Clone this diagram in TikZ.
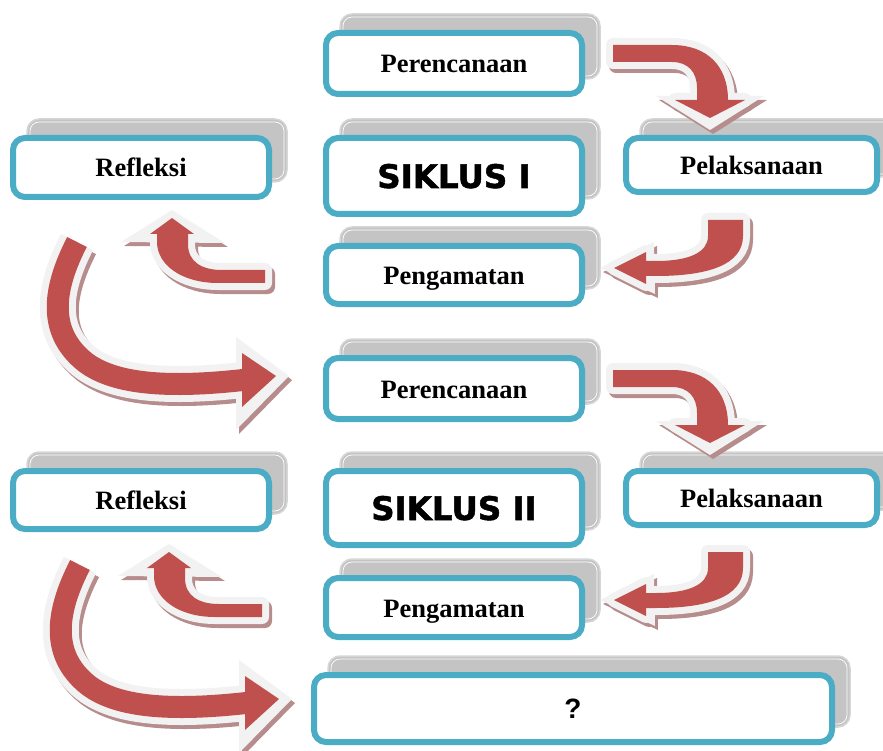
\documentclass[tikz,border=0pt]{standalone}
\usepackage{fontspec}
\setmainfont{Liberation Serif}
\newfontfamily\heavyfont{DejaVu Sans}[UprightFeatures={FakeBold=1.6}, BoldFeatures={FakeBold=1.6}]
\newfontfamily\arialfont{Liberation Sans}
\definecolor{bluec}{HTML}{4BACC6}
\definecolor{redc}{HTML}{C0504D}
\definecolor{whitec}{HTML}{F2F2F2}
\definecolor{shadowc}{RGB}{183,140,140}
\definecolor{grayc}{HTML}{C4C4C4}
\definecolor{grayedge}{HTML}{D6D6D6}

% arrow outlines (pixel coordinates, y downwards)
\newcommand\arrApath{(613,45) -- (672,45) .. controls (706,45) and (728,65) .. (728,100) -- (745,100) -- (710,118) -- (675,100) -- (697,100) -- (697,88) .. controls (697,72) and (688,62) .. (672,62) -- (613,62) -- cycle}
\newcommand\arrAhead{(656,96) -- (764,96) -- (710,130) -- cycle}
\newcommand\arrBpath{(708,220) -- (743,220) -- (743,236) .. controls (743,266) and (705,276) .. (656,276) -- (646,276) -- (646,284) -- (614,268) -- (646,252) -- (646,261) -- (656,261) .. controls (690,261) and (708,252) .. (708,236) -- cycle}
\newcommand\arrBhead{(654,242) -- (655,294) -- (600,268) -- cycle}
\newcommand\arrCpath{(265,270) -- (265,283) -- (218,283) .. controls (182,283) and (157,265) .. (157,242) -- (157,234) -- (150,234) -- (172,218) -- (194,234) -- (188,234) -- (188,244) .. controls (188,262) and (202,270) .. (222,270) -- cycle}
\newcommand\arrChead{(121,242) -- (225,243) -- (172,210) -- cycle}
\newcommand\arrDline{(77,242) .. controls (55,285) and (45,330) .. (85,362) .. controls (115,385) and (170,388) .. (243,380)}
\newcommand\arrDred{(242,353) -- (242,407) -- (276,376) -- cycle}
\newcommand\arrDwhite{(236,337) -- (236,430) -- (289,376) -- cycle}

\newcommand\fancyarrow[3]{%
  \begin{scope}[shift={#1}]
    \begin{scope}[shift={(3,4)}]
      \fill[shadowc] #3;
      \filldraw[shadowc, line width=14pt, line join=round] #2;
    \end{scope}
    \fill[whitec] #3;
    \filldraw[whitec, line width=14pt, line join=round] #2;
    \fill[redc] #2;
  \end{scope}}

\newcommand\bigarrow[4]{%
  \begin{scope}[shift={#1}]
    \begin{scope}[shift={(3,4)}]
      \draw[shadowc, line width=36pt] #2;
      \fill[shadowc] #4;
    \end{scope}
    \draw[whitec, line width=36pt] #2;
    \fill[whitec] #4;
    \draw[redc, line width=22pt] #2;
    \fill[redc] #3;
  \end{scope}}

% box: name, cx, cy, outer width, outer height, text, extra style
\newcommand\cbox[7]{%
  \node[grayb, minimum width={#4-2}, minimum height={#5-2}] (#1s) at (#2+16,#3-17) {};
  \node[grayin, minimum width={#4-8}, minimum height={#5-8}] (#1i) at (#2+16,#3-17) {};
  \node[blueb, minimum width={#4-6}, minimum height={#5-6}, #7] (#1) at (#2,#3) {#6};}

\begin{document}
\begin{tikzpicture}[x=1pt, y=-1pt,
  blueb/.style={draw=bluec, line width=6pt, fill=white, rounded corners=12pt, inner sep=0pt, outer sep=0pt},
  grayb/.style={draw=grayedge, line width=1.5pt, fill=grayc, rounded corners=12pt, inner sep=0pt, outer sep=0pt},
  grayin/.style={draw=white, line width=0.7pt, rounded corners=9pt, inner sep=0pt, outer sep=0pt},
  lbl/.style={font=\bfseries\fontsize{26.5}{30}\selectfont, text height=21pt, text depth=2pt},
  siklus/.style={font=\heavyfont\bfseries\fontsize{32.5}{36}\selectfont, text height=24pt, text depth=0pt},
  qlbl/.style={font=\arialfont\bfseries\fontsize{28}{32}\selectfont, text height=20pt, text depth=0pt}]
\useasboundingbox (0,0) rectangle (883,751);
\clip (0,0) rectangle (883,751);

% cycle I
\cbox{pa}{454}{63.5}{262}{67}{Perencanaan}{lbl}
\cbox{sa}{454}{176}{262}{82}{SIKLUS I}{siklus}
\cbox{ra}{141}{167.5}{262}{65}{Refleksi}{lbl}
\cbox{la}{751.5}{165}{257}{60}{Pelaksanaan}{lbl}
\cbox{ga}{454}{275}{262}{64}{Pengamatan}{lbl}
% cycle II
\cbox{pb}{454}{388.5}{262}{67}{Perencanaan}{lbl}
\cbox{rb}{141}{500}{262}{64}{Refleksi}{lbl}
\cbox{sb}{454}{508}{262}{80}{SIKLUS II}{siklus}
\cbox{lb}{751.5}{498}{257}{60}{Pelaksanaan}{lbl}
\cbox{gb}{454}{607.5}{262}{65}{Pengamatan}{lbl}
% next
\cbox{q}{573}{708.5}{524}{73}{?}{qlbl}

% block arrows
\fancyarrow{(0,0)}{\arrApath}{\arrAhead}
\fancyarrow{(0,325)}{\arrApath}{\arrAhead}
\fancyarrow{(0,0)}{\arrBpath}{\arrBhead}
\fancyarrow{(0,332)}{\arrBpath}{\arrBhead}
\fancyarrow{(0,0)}{\arrCpath}{\arrChead}
\fancyarrow{(-3,334)}{\arrCpath}{\arrChead}
\bigarrow{(0,0)}{\arrDline}{\arrDred}{\arrDwhite}
\bigarrow{(3,323)}{\arrDline}{\arrDred}{\arrDwhite}
\end{tikzpicture}
\end{document}
